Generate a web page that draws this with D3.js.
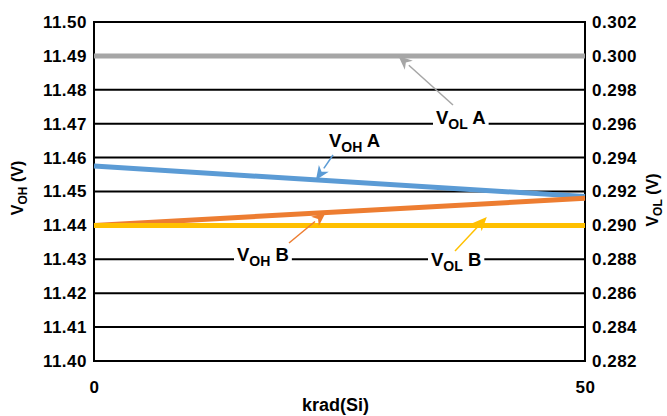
<!DOCTYPE html>
<html>
<head>
<meta charset="utf-8">
<script src="https://cdn.jsdelivr.net/npm/d3@7"></script>
<style>
  body { margin: 0; background: #fff; }
  text { font-family: "Liberation Sans", Arial, Helvetica, sans-serif; font-weight: bold; fill: #000; }
</style>
</head>
<body>
<svg id="chart" width="667" height="416"></svg>
<script>
// ---- data ----
const krad = [0, 50];
const vohA = [11.4575, 11.4485];
const vohB = [11.4400, 11.4480];
const volA = [0.300, 0.300];
const volB = [0.290, 0.290];
const leftTicks = [11.40, 11.41, 11.42, 11.43, 11.44, 11.45, 11.46, 11.47, 11.48, 11.49, 11.50];
const rightTicks = [0.282, 0.284, 0.286, 0.288, 0.290, 0.292, 0.294, 0.296, 0.298, 0.300, 0.302];
const xTicks = [0, 50];

// ---- layout ----
const W = 667, H = 416;
const m = { left: 94, right: 82, top: 22, bottom: 55 };
const svg = d3.select("#chart");

const x = d3.scaleLinear().domain([0, 50]).range([m.left, W - m.right]);
const yL = d3.scaleLinear().domain([11.40, 11.50]).range([H - m.bottom, m.top]);
const yR = d3.scaleLinear().domain([0.282, 0.302]).range([H - m.bottom, m.top]);

// gridlines
svg.append("g").selectAll("line").data(leftTicks).join("line")
  .attr("x1", x(0)).attr("x2", x(50))
  .attr("y1", d => yL(d)).attr("y2", d => yL(d))
  .attr("stroke", "#000").attr("stroke-width", 2);

// axes lines
svg.append("line").attr("x1", x(0)).attr("x2", x(0)).attr("y1", yL(11.40) + 1).attr("y2", yL(11.50) - 1)
  .attr("stroke", "#000").attr("stroke-width", 2);
svg.append("line").attr("x1", x(50)).attr("x2", x(50)).attr("y1", yL(11.40) + 1).attr("y2", yL(11.50) - 1)
  .attr("stroke", "#000").attr("stroke-width", 2);

function styleTicks(g) {
  g.select(".domain").remove();
  g.selectAll("text").style("font-size", "17px").style("letter-spacing", "0.5px")
    .style("font-family", "'Liberation Sans', Arial, sans-serif").style("font-weight", "bold").attr("fill", "#000");
}

// left axis labels
const axL = d3.axisLeft(yL).tickValues(leftTicks).tickFormat(d3.format(".2f")).tickSize(0).tickPadding(7);
styleTicks(svg.append("g").attr("transform", `translate(${x(0)},0)`).call(axL));

// right axis labels
const axR = d3.axisRight(yR).tickValues(rightTicks).tickFormat(d3.format(".3f")).tickSize(0).tickPadding(7);
styleTicks(svg.append("g").attr("transform", `translate(${x(50)},0)`).call(axR));

// x axis labels
const axX = d3.axisBottom(x).tickValues(xTicks).tickFormat(d3.format("d")).tickSize(0).tickPadding(20);
styleTicks(svg.append("g").attr("transform", `translate(0,${yL(11.40)})`).call(axX));

// axis titles
svg.append("text").attr("x", (x(0) + x(50)) / 2 - 4).attr("y", 411)
  .attr("text-anchor", "middle").style("font-size", "18px").text("krad(Si)");

function subTitle(tx, ty, main, sub, rest, size, subSize) {
  const t = svg.append("text").attr("transform", `translate(${tx},${ty}) rotate(-90)`)
    .attr("text-anchor", "middle").style("font-size", size + "px");
  t.append("tspan").text(main);
  t.append("tspan").attr("dy", 4).style("font-size", subSize + "px").text(sub);
  t.append("tspan").attr("dy", -4).text(rest);
  return t;
}
subTitle(23, 188, "V", "OH", " (V)", 16, 12);
subTitle(658, 200, "V", "OL", " (V)", 16, 12);

// ---- data lines ----
const series = [
  { vals: volA, y: yR, color: "#a6a6a6" },
  { vals: vohA, y: yL, color: "#5b9bd5" },
  { vals: vohB, y: yL, color: "#ed7d31" },
  { vals: volB, y: yR, color: "#ffc000" }
];
series.forEach(s => {
  const line = d3.line().x((d, i) => x(krad[i])).y(d => s.y(d));
  svg.append("path").datum(s.vals).attr("d", line)
    .attr("fill", "none").attr("stroke", s.color).attr("stroke-width", 5);
});

// ---- annotations ----
function arrow(x1, y1, x2, y2, color) {
  const ang = Math.atan2(y2 - y1, x2 - x1);
  const L = 14, Wd = 6;
  const bx = x2 - L * Math.cos(ang), by = y2 - L * Math.sin(ang);
  svg.append("line").attr("x1", x1).attr("y1", y1).attr("x2", bx).attr("y2", by)
    .attr("stroke", color).attr("stroke-width", 1.5);
  const px = -Math.sin(ang) * Wd, py = Math.cos(ang) * Wd;
  const inset = 4;
  const ix = x2 - (L - inset) * Math.cos(ang), iy = y2 - (L - inset) * Math.sin(ang);
  svg.append("path")
    .attr("d", `M${x2},${y2} L${bx + px},${by + py} L${ix},${iy} L${bx - px},${by - py} Z`)
    .attr("fill", color);
}

function label(tx, ty, sub, letter, bg) {
  const g = svg.append("g");
  const t = g.append("text").attr("x", tx).attr("y", ty).style("font-size", "18.5px");
  t.append("tspan").text("V");
  t.append("tspan").attr("dy", 5).style("font-size", "14px").text(sub);
  t.append("tspan").attr("dy", -5).text(" " + letter);
  if (bg) {
    const b = t.node().getBBox();
    g.insert("rect", "text").attr("x", b.x - 3).attr("y", ty - 10).attr("width", b.width + 6).attr("height", 16)
      .attr("fill", "#fff");
  }
}

// VOL A
label(436, yL(11.47), "OL", "A", true);
arrow(453, 105, x(31), yR(0.300), "#a6a6a6");
// VOH A
label(329, 147, "OH", "A", false);
arrow(333, 155, x(22.6), yL(11.4534), "#5b9bd5");
// VOH B
label(237, yL(11.43) + 2, "OH", "B", true);
arrow(289, 243, x(23.6), yL(11.4438), "#ed7d31");
// VOL B
label(431, yL(11.43) + 7, "OL", "B", true);
arrow(455, 251, x(40), yR(0.2905), "#ffc000");
</script>
</body>
</html>
